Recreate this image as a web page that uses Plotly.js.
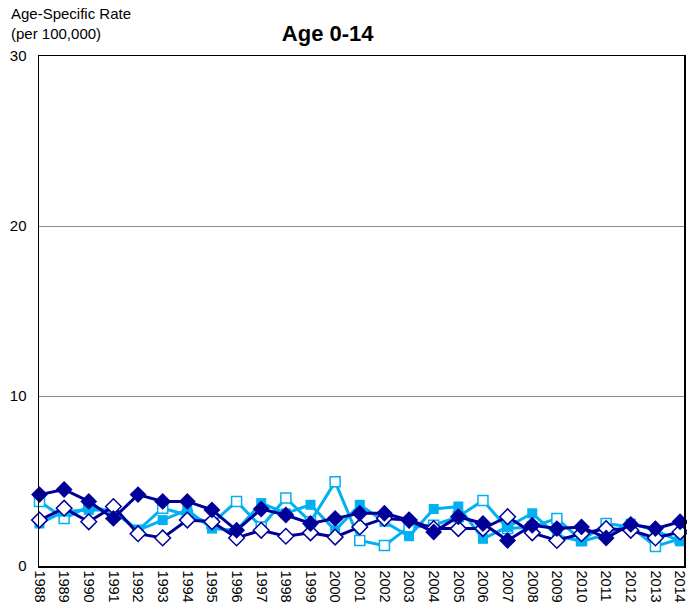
<!DOCTYPE html>
<html>
<head>
<meta charset="utf-8">
<script src="https://cdn.plot.ly/plotly-3.0.1.min.js"></script>
<style>html,body{margin:0;padding:0;background:#fff;}#chart{width:687px;height:609px;}</style>
</head>
<body>
<div id="chart"></div>
<script>
const years = [1988,1989,1990,1991,1992,1993,1994,1995,1996,1997,1998,1999,2000,2001,2002,2003,2004,2005,2006,2007,2008,2009,2010,2011,2012,2013,2014];
const darkFilled = [4.2,4.5,3.8,2.8,4.2,3.8,3.8,3.3,2.1,3.35,3.0,2.5,2.8,3.1,3.1,2.7,2.0,2.9,2.5,1.5,2.4,2.2,2.3,1.65,2.45,2.2,2.6];
const darkOpen = [2.7,3.4,2.6,3.5,1.9,1.65,2.7,2.6,1.65,2.1,1.75,1.95,1.7,2.3,2.8,2.7,2.2,2.2,2.2,2.9,1.95,1.5,1.9,2.2,2.1,1.65,2.0];
const lightFilled = [2.5,3.2,3.3,3.3,2.1,2.7,3.3,2.2,2.1,3.7,3.1,3.6,2.1,3.6,2.6,1.75,3.35,3.5,1.6,2.3,3.1,1.8,1.45,1.85,2.5,2.1,1.45];
const lightOpen = [3.8,2.8,3.5,3.2,2.1,3.4,3.0,2.5,3.8,2.3,4.0,2.6,4.95,1.5,1.2,2.3,2.4,2.9,3.85,2.2,2.3,2.8,1.5,2.5,2.3,1.15,1.6];
const yTicks = [0,10,20,30];

const DARK = '#000099';
const LIGHT = '#00B0F0';

function trace(y, color, symbol, open, size) {
  return {
    x: years, y: y, type: 'scatter', mode: 'lines+markers', cliponaxis: false,
    line: {color: color, width: 3},
    marker: {symbol: symbol, size: size, color: open ? '#ffffff' : color,
             line: {color: color, width: open ? 1.5 : 0}},
    showlegend: false, hoverinfo: 'skip'
  };
}

const data = [
  trace(lightOpen, LIGHT, 'square', true, 10),
  trace(lightFilled, LIGHT, 'square', false, 10),
  trace(darkOpen, DARK, 'diamond', true, 12),
  trace(darkFilled, DARK, 'diamond', false, 13)
];

const layout = {
  width: 687, height: 609,
  margin: {l: 39, r: 3, t: 56, b: 43},
  paper_bgcolor: '#fff', plot_bgcolor: '#fff',
  font: {family: 'Liberation Sans, Arial, sans-serif', size: 15, color: '#000'},
  title: {text: '<b>Age 0-14</b>', font: {size: 22, family: 'Liberation Sans, Arial, sans-serif', color: '#000'},
          x: 0.477, xanchor: 'center', y: 0.945, yanchor: 'middle'},
  xaxis: {
    range: [1987.98, 2014.16], tickvals: years, ticktext: years.map(String),
    tickangle: 90, showgrid: false, zeroline: false,
    showline: true, linecolor: '#000', linewidth: 1.5, mirror: true,
    ticks: '', tickfont: {size: 14.5}, ticklabeloverflow: 'allow'
  },
  yaxis: {
    range: [0, 30], tickvals: yTicks, ticktext: yTicks.map(String),
    showgrid: true, gridcolor: '#8c8c8c', gridwidth: 1, zeroline: false,
    showline: true, linecolor: '#000', linewidth: 1.5, mirror: true,
    ticks: '', tickfont: {size: 15}, ticklabelstandoff: 8
  },
  annotations: [{
    text: 'Age-Specific Rate<br>(per 100,000)', xref: 'paper', yref: 'paper',
    x: -0.047, y: 1.103, xanchor: 'left', yanchor: 'top', align: 'left',
    showarrow: false, font: {size: 15}
  }]
};

Plotly.newPlot('chart', data, layout, {staticPlot: true, displayModeBar: false});
</script>
</body>
</html>
